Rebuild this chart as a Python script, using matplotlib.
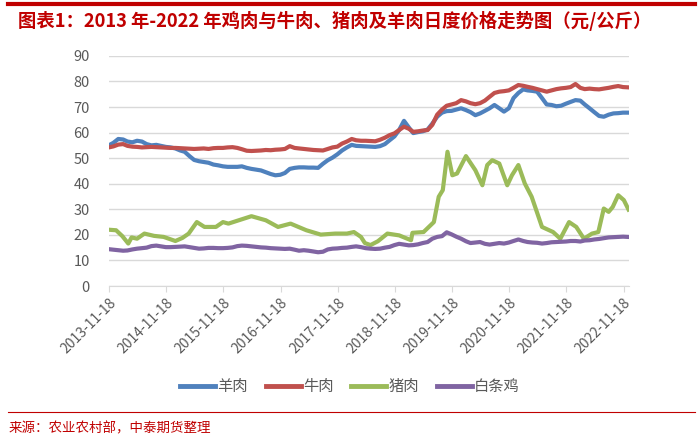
import numpy as np
import pandas as pd
import matplotlib
matplotlib.use("Agg")
import matplotlib.pyplot as plt
import matplotlib.dates as mdates
from matplotlib.lines import Line2D

plt.rcParams['font.family'] = ['Noto Sans CJK SC', 'DejaVu Sans']

# monthly readings (mid-month), Nov 2013 .. Dec 2022
months = pd.date_range("2013-11-01", "2022-12-01", freq="MS") + pd.Timedelta(days=14)

mutton = [55.0, 56.0,
          57.5, 57.3, 56.5, 56.2, 56.8, 56.5, 55.5, 55.0, 55.2, 54.8, 54.4, 54.2,
          53.8, 53.0, 52.5, 50.8, 49.3, 48.8, 48.5, 48.2, 47.5, 47.2, 46.8, 46.6,
          46.6, 46.6, 46.8, 46.2, 45.8, 45.5, 45.2, 44.5, 43.8, 43.3, 43.5, 44.2,
          45.8, 46.2, 46.4, 46.4, 46.3, 46.3, 46.2, 47.8, 49.2, 50.2, 51.5, 53.0,
          54.2, 55.2, 54.8, 54.7, 54.6, 54.5, 54.4, 54.7, 55.5, 57.0, 58.5, 61.0,
          64.6, 62.0, 59.8, 60.2, 60.5, 61.2, 63.5, 66.2, 67.8, 68.4, 68.5, 69.0,
          69.5, 68.8, 68.0, 66.8, 67.5, 68.5, 69.5, 70.8, 69.5, 68.2, 69.5, 73.5,
          75.5, 76.9, 76.5, 76.3, 76.0, 73.5, 71.0, 70.8, 70.3, 70.5, 71.3, 72.0,
          72.7, 72.5, 71.0, 69.5, 68.0, 66.5, 66.2, 67.0, 67.5, 67.6, 67.8, 67.8]

beef = [54.2, 54.6,
        55.3, 55.5, 54.8, 54.5, 54.4, 54.2, 54.3, 54.4, 54.3, 54.2, 54.1, 54.0,
        54.0, 53.9, 53.8, 53.7, 53.6, 53.7, 53.8, 53.6, 53.9, 54.0, 54.0, 54.2,
        54.3, 54.0, 53.5, 52.9, 52.8, 52.9, 53.0, 53.2, 53.1, 53.3, 53.4, 53.6,
        54.7, 54.0, 53.8, 53.6, 53.4, 53.2, 53.1, 53.0, 53.6, 54.2, 54.5, 55.7,
        56.5, 57.5, 57.0, 56.8, 56.8, 56.7, 56.6, 57.2, 58.0, 59.0, 59.7, 61.0,
        62.3, 61.5, 60.3, 60.5, 60.8, 61.0, 63.0, 67.0, 69.0, 70.5, 71.0, 71.5,
        72.7, 72.2, 71.5, 71.1, 71.5, 72.5, 74.0, 75.5, 76.0, 76.2, 76.5, 77.5,
        78.6, 78.3, 77.9, 77.5, 77.0, 76.5, 76.0, 76.5, 77.0, 77.3, 77.5, 77.8,
        79.0, 77.5, 77.0, 77.2, 77.0, 76.9, 77.2, 77.5, 77.9, 78.2, 77.8, 77.7]

chicken = [14.4, 14.2,
           14.0, 13.8, 13.9, 14.3, 14.6, 14.8, 15.0, 15.6, 15.8, 15.5, 15.2, 15.2,
           15.3, 15.4, 15.5, 15.2, 14.9, 14.6, 14.7, 14.9, 14.9, 14.8, 14.8, 14.9,
           15.1, 15.6, 15.8, 15.7, 15.5, 15.3, 15.1, 15.0, 14.8, 14.7, 14.6, 14.5,
           14.6, 14.2, 13.8, 14.0, 13.8, 13.5, 13.2, 13.4, 14.3, 14.6, 14.7, 14.9,
           15.0, 15.3, 15.5, 15.2, 14.8, 14.6, 14.5, 14.6, 15.0, 15.3, 16.0, 16.5,
           16.2, 15.9, 16.0, 16.3, 16.8, 17.2, 18.5, 19.2, 19.5, 21.0, 20.2, 19.3,
           18.5, 17.5, 16.8, 17.0, 17.2, 16.5, 16.2, 16.5, 16.8, 16.6, 17.0, 17.6,
           18.2, 17.6, 17.2, 17.0, 16.9, 16.6, 16.8, 17.1, 17.2, 17.3, 17.4, 17.6,
           17.6, 17.4, 17.8, 17.9, 18.2, 18.4, 18.7, 19.0, 19.1, 19.2, 19.3, 19.2]

# pork moves fast, so it is read at its turning points
pork_dates = ["2013-11-18", "2014-01-01", "2014-02-10", "2014-03-20", "2014-04-10",
              "2014-05-15", "2014-07-01", "2014-09-01", "2014-11-01", "2015-01-15",
              "2015-03-01", "2015-04-10", "2015-06-01", "2015-07-20", "2015-10-01",
              "2015-11-15", "2015-12-20", "2016-05-15", "2016-08-15", "2016-11-01",
              "2017-01-20", "2017-05-01", "2017-08-01", "2017-11-01", "2018-01-15",
              "2018-03-01", "2018-04-15", "2018-05-10", "2018-06-15", "2018-08-01",
              "2018-10-01", "2018-12-15", "2019-03-01", "2019-03-10", "2019-05-20",
              "2019-07-25", "2019-08-25", "2019-09-20", "2019-10-20", "2019-11-20",
              "2019-12-20", "2020-02-15", "2020-04-15", "2020-05-30", "2020-06-30",
              "2020-08-01", "2020-09-15", "2020-11-05", "2020-12-05", "2021-01-15",
              "2021-02-25", "2021-04-10", "2021-06-15", "2021-08-25", "2021-10-10",
              "2021-12-05", "2022-01-20", "2022-03-10", "2022-05-01", "2022-06-10",
              "2022-07-15", "2022-08-15", "2022-09-10", "2022-10-15", "2022-11-20",
              "2022-12-20"]
pork = [22.0, 21.8, 19.5, 16.6, 19.0,
        18.5, 20.5, 19.6, 19.2, 17.6,
        18.8, 20.5, 25.0, 23.1, 23.1,
        25.0, 24.4, 27.3, 25.7, 23.1,
        24.4, 21.8, 20.1, 20.5, 20.5,
        21.1, 19.2, 16.8, 16.0, 17.5,
        20.5, 19.8, 17.9, 20.8, 21.1,
        25.0, 34.9, 37.5, 52.5, 43.3,
        44.0, 50.8, 45.3, 39.4, 47.3,
        49.2, 47.9, 39.4, 43.3, 47.3,
        40.1, 34.9, 23.1, 21.1, 18.5,
        25.0, 23.1, 18.5, 20.5, 21.1,
        30.3, 29.0, 30.9, 35.5, 33.6,
        29.9]

labels = ["羊肉", "牛肉", "猪肉", "白条鸡"]
colors = ["#4F81BD", "#C0504D", "#9BBB59", "#8064A2"]
tick_dates = [f"{y}-11-18" for y in range(2013, 2023)]

fig = plt.figure(figsize=(7, 4.4), dpi=100)
ax = fig.add_axes([0.156, 0.35, 0.743, 0.523])

ax.plot(months, mutton, color=colors[0], lw=3, zorder=3)
ax.plot(months, beef, color=colors[1], lw=3, zorder=4)
ax.plot(pd.to_datetime(pork_dates), pork, color=colors[2], lw=3, zorder=3)
ax.plot(months, chicken, color=colors[3], lw=3, zorder=3)

ax.set_ylim(0, 90)
ax.set_yticks(range(0, 91, 10))
ax.set_xlim(pd.Timestamp("2013-11-18"), pd.Timestamp("2022-12-25"))
ax.set_xticks(pd.to_datetime(tick_dates))
ax.xaxis.set_major_formatter(mdates.DateFormatter("%Y-%m-%d"))
plt.setp(ax.get_xticklabels(), rotation=45, ha="right", rotation_mode="anchor")

ax.grid(axis="y", color="#d9d9d9", lw=1)
ax.set_axisbelow(True)
for s in ["top", "right", "left"]:
    ax.spines[s].set_visible(False)
ax.spines["bottom"].set_color("#d9d9d9")
ax.tick_params(axis="y", length=0, labelsize=10.5, labelcolor="#595959", pad=14)
ax.tick_params(axis="x", length=4, color="#d9d9d9", labelsize=10, labelcolor="#595959", pad=3)

handles = [Line2D([], [], color=c, lw=3.5) for c in colors]
fig.legend(handles, labels, loc="center", bbox_to_anchor=(0.5, 0.121), ncol=4,
           frameon=False, fontsize=11, handlelength=2.3, handletextpad=0.15,
           columnspacing=1.15, labelcolor="#595959")

fig.add_artist(Line2D([0.012, 0.993], [0.99, 0.99], color="#C00000", lw=3))
fig.text(0.026, 0.952, "图表1：2013 年-2022 年鸡肉与牛肉、猪肉及羊肉日度价格走势图（元/公斤）",
         color="#C00000", fontsize=13.2, fontweight="bold", style="italic", va="center")
fig.add_artist(Line2D([0.012, 0.993], [0.063, 0.063], color="#C00000", lw=0.8))
fig.text(0.012, 0.027, "来源：农业农村部，中泰期货整理", color="#C00000", fontsize=9.7, va="center")

fig.savefig("out.png", dpi=100)
